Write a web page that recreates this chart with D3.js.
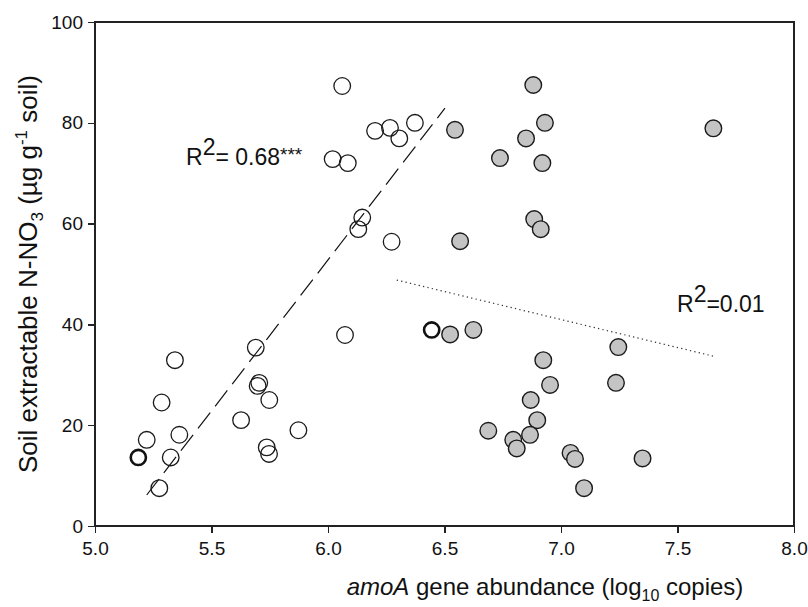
<!DOCTYPE html>
<html lang="en">
<head>
    <meta charset="UTF-8">
    <title>amoA vs nitrate</title>
    <script src="https://d3js.org/d3.v7.min.js"></script>
    <style>
        body { margin: 0; background: #fff; }
        svg text { font-family: Arial, "Liberation Sans", sans-serif; fill: #111; }
        .axis path, .axis line { stroke: #222; stroke-width: 1.3px; shape-rendering: crispEdges; }
        .axis text { font-size: 19px; }
    </style>
</head>
<body>
<svg width="808" height="607"></svg>
<script>
    // open circles (group 1), [log10 copies, ug N-NO3 / g soil]
    const openX = [5.343, 5.286, 5.222, 5.362, 5.325, 5.276, 5.690, 5.705, 5.698, 5.748, 5.627, 5.737, 5.747, 5.873,
                   6.073, 6.061, 6.202, 6.266, 6.306, 6.373, 6.020, 6.085, 6.147, 6.130, 6.273];
    const openY = [32.9, 24.5, 17.1, 18.1, 13.6, 7.5, 35.4, 28.4, 27.8, 25.0, 21.0, 15.6, 14.3, 19.0,
                   37.9, 87.3, 78.4, 79.0, 76.9, 80.0, 72.8, 72.0, 61.2, 58.9, 56.4];
    // thick-outlined open circles
    const boldX = [5.186, 6.445];
    const boldY = [13.6, 38.9];
    // grey circles (group 2)
    const greyX = [6.524, 6.624, 7.246, 6.924, 6.953, 7.236, 6.870, 6.898, 6.688, 6.795, 6.810, 6.867, 7.041, 7.060,
                   7.350, 7.099, 6.881, 6.931, 6.850, 6.738, 6.920, 6.885, 6.913, 7.654, 6.545, 6.567];
    const greyY = [38.0, 38.9, 35.5, 32.9, 28.0, 28.4, 25.0, 21.0, 18.9, 17.1, 15.4, 18.1, 14.5, 13.3,
                   13.4, 7.5, 87.5, 80.0, 76.9, 73.0, 72.0, 60.9, 58.9, 78.9, 78.6, 56.5];
    // regression lines
    const fit1X = [5.222, 6.502];
    const fit1Y = [6.15, 82.9];
    const fit2X = [6.295, 7.654];
    const fit2Y = [48.8, 33.7];

    const xTicks = [5.0, 5.5, 6.0, 6.5, 7.0, 7.5, 8.0];
    const yTicks = [0, 20, 40, 60, 80, 100];

    const plotLeft = 95, plotRight = 794, plotTop = 22, plotBottom = 526;

    const x = d3.scaleLinear().domain([5, 8]).range([plotLeft, plotRight]);
    const y = d3.scaleLinear().domain([0, 100]).range([plotBottom, plotTop]);

    const svg = d3.select("svg");

    // frame
    svg.append("rect")
        .attr("x", plotLeft).attr("y", plotTop)
        .attr("width", plotRight - plotLeft).attr("height", plotBottom - plotTop)
        .attr("fill", "none").attr("stroke", "#222").attr("stroke-width", 1.3)
        .attr("shape-rendering", "crispEdges");

    svg.append("g")
        .attr("class", "axis")
        .attr("transform", "translate(0," + plotBottom + ")")
        .call(d3.axisBottom(x).tickValues(xTicks).tickFormat(d3.format(".1f")).tickSizeOuter(0).tickSize(7).tickPadding(9));

    svg.append("g")
        .attr("class", "axis")
        .attr("transform", "translate(" + plotLeft + ",0)")
        .call(d3.axisLeft(y).tickValues(yTicks).tickSizeOuter(0).tickSize(7).tickPadding(5));

    // regression lines
    const line = d3.line().x(d => x(d[0])).y(d => y(d[1]));
    svg.append("path")
        .attr("d", line(d3.zip(fit1X, fit1Y)))
        .attr("fill", "none").attr("stroke", "#111").attr("stroke-width", 1.2)
        .attr("stroke-dasharray", "20,8");
    svg.append("path")
        .attr("d", line(d3.zip(fit2X, fit2Y)))
        .attr("fill", "none").attr("stroke", "#333").attr("stroke-width", 1.2)
        .attr("stroke-dasharray", "1.3,3.2");

    // points
    svg.append("g").selectAll("circle")
        .data(d3.zip(greyX, greyY))
        .join("circle")
        .attr("cx", d => x(d[0])).attr("cy", d => y(d[1])).attr("r", 8.3)
        .attr("fill", "#c4c4c4").attr("stroke", "#1a1a1a").attr("stroke-width", 1.4);

    svg.append("g").selectAll("circle")
        .data(d3.zip(openX, openY))
        .join("circle")
        .attr("cx", d => x(d[0])).attr("cy", d => y(d[1])).attr("r", 8.3)
        .attr("fill", "none").attr("stroke", "#1a1a1a").attr("stroke-width", 1.3);

    svg.append("g").selectAll("circle")
        .data(d3.zip(boldX, boldY))
        .join("circle")
        .attr("cx", d => x(d[0])).attr("cy", d => y(d[1])).attr("r", 7.6)
        .attr("fill", "#fff").attr("stroke", "#111").attr("stroke-width", 2.6);

    // R2 annotations
    const r1 = svg.append("text").attr("x", 186).attr("y", 165).attr("font-size", 23);
    r1.append("tspan").text("R");
    r1.append("tspan").attr("dy", -10).text("2");
    r1.append("tspan").attr("dy", 10).text("= 0.68");
    r1.append("tspan").attr("font-size", 19).attr("dy", -4).text("***");

    const r2 = svg.append("text").attr("x", 677).attr("y", 312).attr("font-size", 23);
    r2.append("tspan").text("R");
    r2.append("tspan").attr("dy", -10).text("2");
    r2.append("tspan").attr("dy", 10).text("=0.01");

    // axis titles
    const xt = svg.append("text").attr("x", 545).attr("y", 595)
        .attr("text-anchor", "middle").attr("font-size", 24);
    xt.append("tspan").attr("font-style", "italic").text("amoA");
    xt.append("tspan").text(" gene abundance (log");
    xt.append("tspan").attr("dy", 6).attr("font-size", 16).text("10");
    xt.append("tspan").attr("dy", -6).text(" copies)");

    const yt = svg.append("text")
        .attr("transform", "translate(37,274) rotate(-90)")
        .attr("text-anchor", "middle").attr("font-size", 26);
    yt.append("tspan").text("Soil extractable N-NO");
    yt.append("tspan").attr("dy", 6).attr("font-size", 17).text("3");
    yt.append("tspan").attr("dy", -6).text(" (µg g");
    yt.append("tspan").attr("dy", -10).attr("font-size", 17).text("-1");
    yt.append("tspan").attr("dy", 10).text(" soil)");
</script>
</body>
</html>
